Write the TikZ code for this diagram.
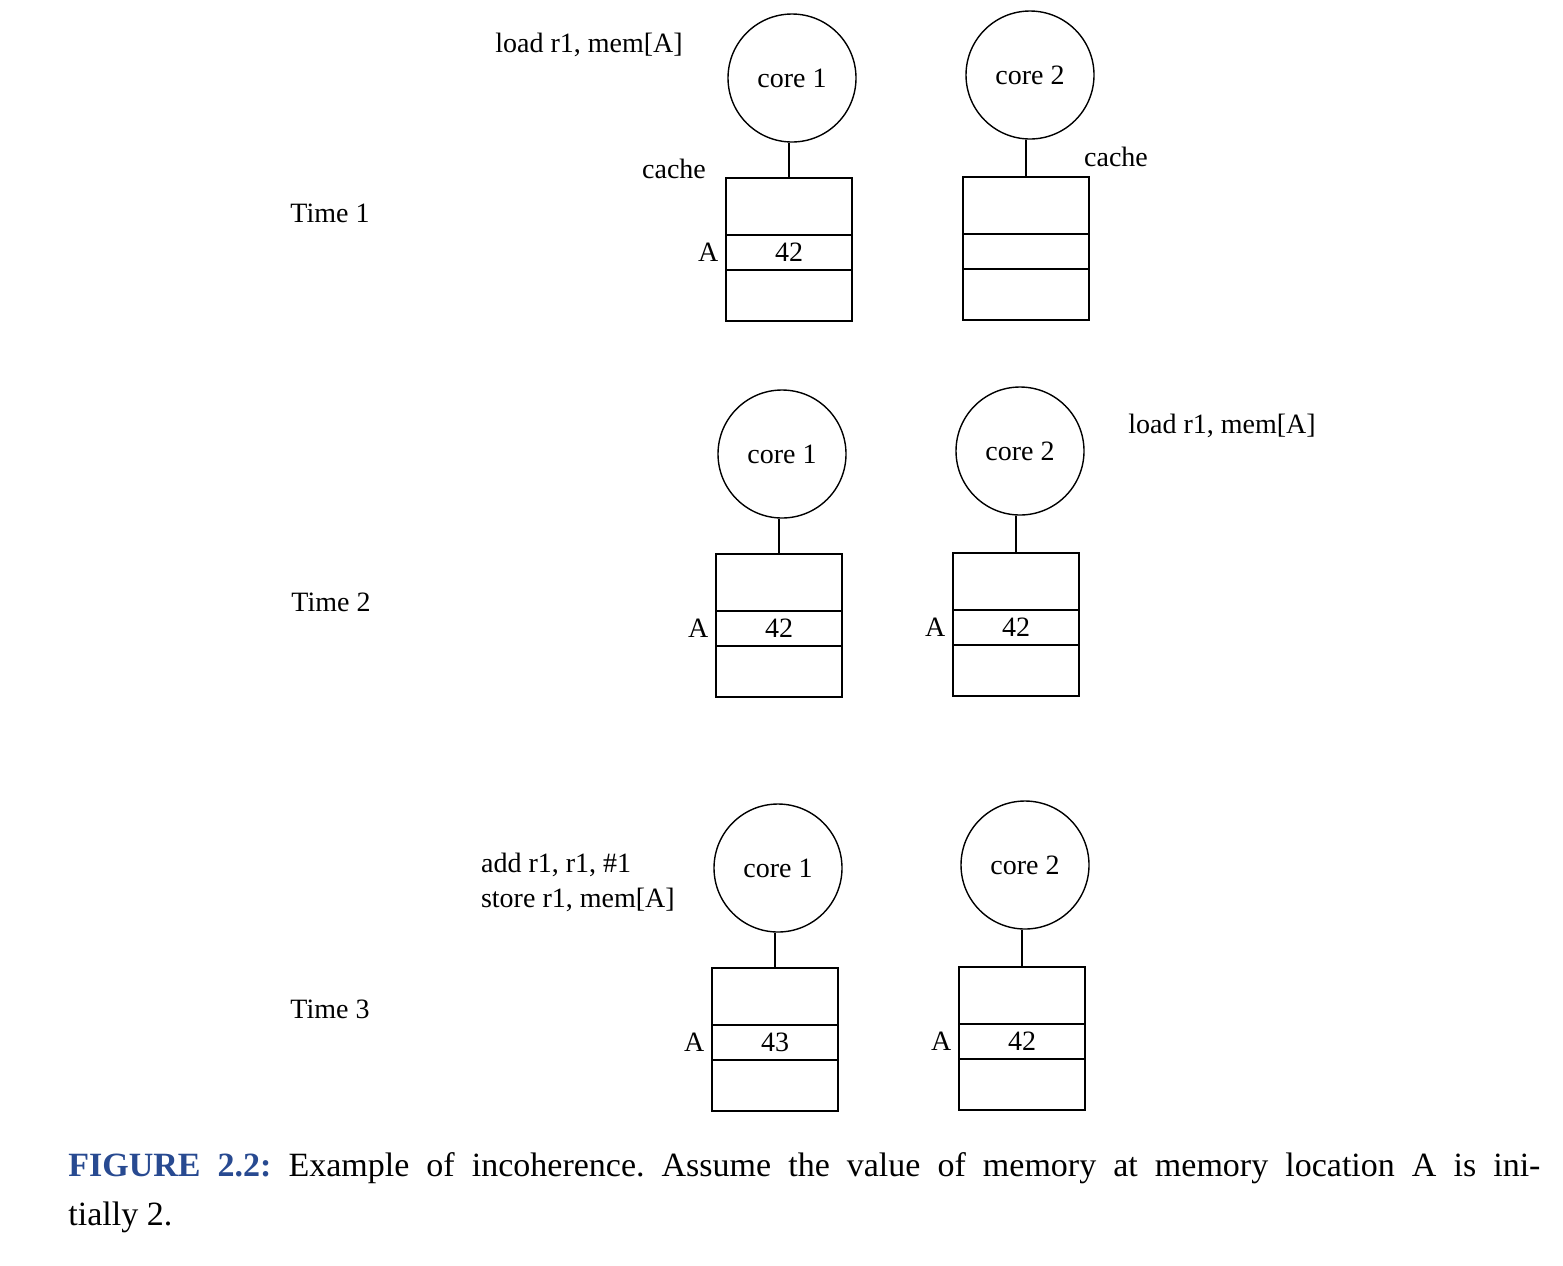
\documentclass[tikz,border=0pt]{standalone}
\usepackage{fontspec}
\setmainfont{Liberation Serif}
\definecolor{figblue}{RGB}{40,74,145}
\begin{document}
\frenchspacing
\begin{tikzpicture}[x=.5pt,y=-.5pt,
	every node/.style={font=\fontsize{14}{17.5}\selectfont},
	core/.style={draw,circle,line width=.7pt,minimum size=64pt,inner sep=0pt},
	cachebox/.style={draw,rectangle,line width=.7pt,minimum width=63pt,minimum height=71.5pt,inner sep=0pt},
	slot/.style={draw,rectangle,line width=.7pt,minimum width=63pt,minimum height=17.5pt,inner sep=0pt}]
	\useasboundingbox (0,0) rectangle (1563,1265);
	
	% time 1
	\node (t1) at (330,213) {Time 1};
	\node (ld1) at (589,45) {load r1, mem[A]};
	\node [core] (c1a) at (792,78) {core 1};
	\node [core] (c2a) at (1030,75) {core 2};
	\node [cachebox] (k1a) at (789,249.5) {};
	\node [cachebox] (k2a) at (1026,248.5) {};
	\node [slot] (s1a) at (789,252.5) {42};
	\node [slot] (s2a) at (1026,251.5) {};
	\node [left] (a1a) at (s1a.west) {A};
	\node (ch1) at (674,169) {cache};
	\node (ch2) at (1116,157) {cache};
	\draw [line width=.7pt] (k1a.north) -- (k1a.north |- c1a.south);
	\draw [line width=.7pt] (k2a.north) -- (k2a.north |- c2a.south);
	
	% time 2
	\node (t2) at (331,602) {Time 2};
	\node (ld2) at (1222,426) {load r1, mem[A]};
	\node [core] (c1b) at (782,454) {core 1};
	\node [core] (c2b) at (1020,451) {core 2};
	\node [cachebox] (k1b) at (779,625.5) {};
	\node [cachebox] (k2b) at (1016,624.5) {};
	\node [slot] (s1b) at (779,628.5) {42};
	\node [slot] (s2b) at (1016,627.5) {42};
	\node [left] (a1b) at (s1b.west) {A};
	\node [left] (a2b) at (s2b.west) {A};
	\draw [line width=.7pt] (k1b.north) -- (k1b.north |- c1b.south);
	\draw [line width=.7pt] (k2b.north) -- (k2b.north |- c2b.south);
	
	% time 3
	\node (t3) at (330,1009) {Time 3};
	\node [anchor=west,align=left] (st3) at (474,882) {add r1, r1, \#1\\store r1, mem[A]};
	\node [core] (c1c) at (778,868) {core 1};
	\node [core] (c2c) at (1025,865) {core 2};
	\node [cachebox] (k1c) at (775,1039.5) {};
	\node [cachebox] (k2c) at (1022,1038.5) {};
	\node [slot] (s1c) at (775,1042.5) {43};
	\node [slot] (s2c) at (1022,1041.5) {42};
	\node [left] (a1c) at (s1c.west) {A};
	\node [left] (a2c) at (s2c.west) {A};
	\draw [line width=.7pt] (k1c.north) -- (k1c.north |- c1c.south);
	\draw [line width=.7pt] (k2c.north) -- (k2c.north |- c2c.south);
	
	% caption
	\node [anchor=north west,inner sep=0pt,text width=736pt,align=justify,font=\fontsize{17}{24.5}\selectfont] (cap) at (68,1152)
		{\textcolor{figblue}{\textbf{FIGURE 2.2:}} Example of incoherence. Assume the value of memory at memory location A is ini-\linebreak tially 2.};
\end{tikzpicture}
\end{document}
